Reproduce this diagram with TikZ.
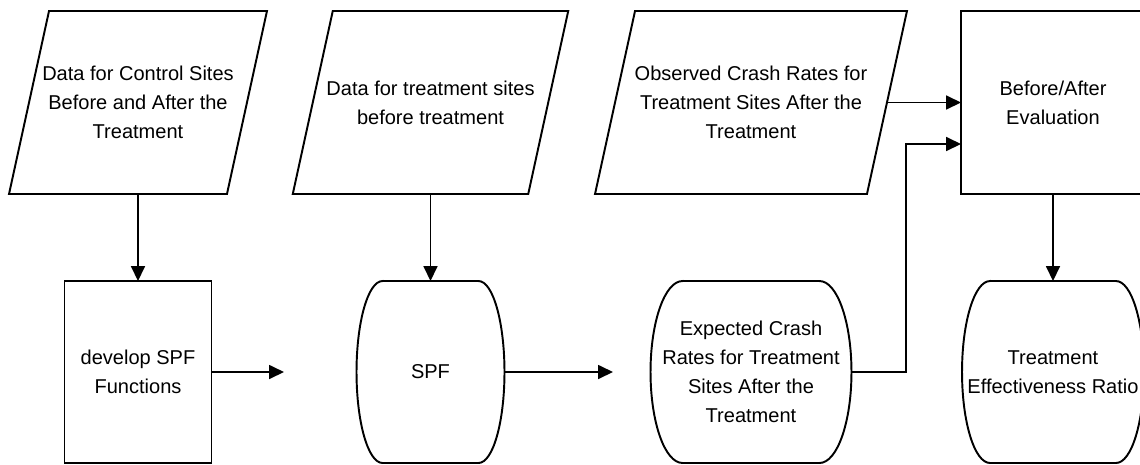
\documentclass[tikz,border=0pt]{standalone}
\usepackage{fontspec}
\setmainfont{Liberation Sans}
\usetikzlibrary{arrows.meta}

\newcommand\slantbox[1]{\draw[outline] ([xshift=0.4cm]#1.north west) -- ([xshift=0.4cm]#1.north east) -- ([xshift=-0.4cm]#1.south east) -- ([xshift=-0.4cm]#1.south west) -- cycle;}
\newcommand\barrel[2]{\draw[outline] ([xshift=#2]#1.north west) -- ([xshift=-#2]#1.north east) arc[start angle=90, end angle=-90, x radius=#2, y radius=1.82cm] -- ([xshift=#2]#1.south west) arc[start angle=270, end angle=90, x radius=#2, y radius=1.82cm] -- cycle;}

\begin{document}
\begin{tikzpicture}[x=0.02cm, y=-0.02cm,
    box/.style={font=\fontsize{11.4}{16.5}\selectfont, align=center, inner sep=0pt, outer sep=0pt, minimum height=3.66cm},
    procbox/.style={box, draw, line width=1.1pt},
    outline/.style={line width=1.1pt},
    flow/.style={line width=1pt, -{Triangle[length=3mm,width=2.8mm]}}]
      \clip (0,0) rectangle (1140,464);
      % input data
      \draw (138,102.5) node[box, minimum width=4.36cm](ctrl){Data for Control Sites\\Before and After the\\Treatment};
      \draw (430.5,102.5) node[box, minimum width=4.71cm](trt){Data for treatment sites\\before treatment};
      \draw (751,102.5) node[box, minimum width=5.44cm](obs){Observed Crash Rates for\\Treatment Sites After the\\Treatment};
      \slantbox{ctrl}
      \slantbox{trt}
      \slantbox{obs}
      % evaluation
      \draw (1053,102.5) node[procbox, minimum width=3.68cm](eval){Before/After\\Evaluation};
      % bottom row
      \draw (138,372) node[procbox, minimum width=2.94cm, minimum height=3.64cm](dev){develop SPF\\Functions};
      \draw (430.5,372) node[box, minimum width=2.96cm, minimum height=3.64cm](spf){SPF};
      \draw (751,372) node[box, minimum width=4.02cm, minimum height=3.64cm](exp){Expected Crash\\Rates for Treatment\\Sites After the\\Treatment};
      \draw (1053,372) node[box, minimum width=3.64cm, minimum height=3.64cm](ratio){Treatment\\Effectiveness Ratio};
      \barrel{spf}{0.52cm}
      \barrel{exp}{0.64cm}
      \barrel{ratio}{0.56cm}
      % connectors
      \coordinate (devend) at (284,372);
      \coordinate (spfend) at (613,372);
      \coordinate (elbow) at (906,144);
      \draw[flow] (ctrl.south) -- (dev.north);
      \draw[flow] (trt.south) -- (spf.north);
      \draw[flow] (eval.south) -- (ratio.north);
      \draw[flow] (dev.east) -- (devend);
      \draw[flow] (spf.east) -- (spfend);
      \draw[flow] (obs.east) -- (eval.west);
      \draw[flow] (exp.east) -| (elbow) -- (elbow -| eval.west);
\end{tikzpicture}
\end{document}
